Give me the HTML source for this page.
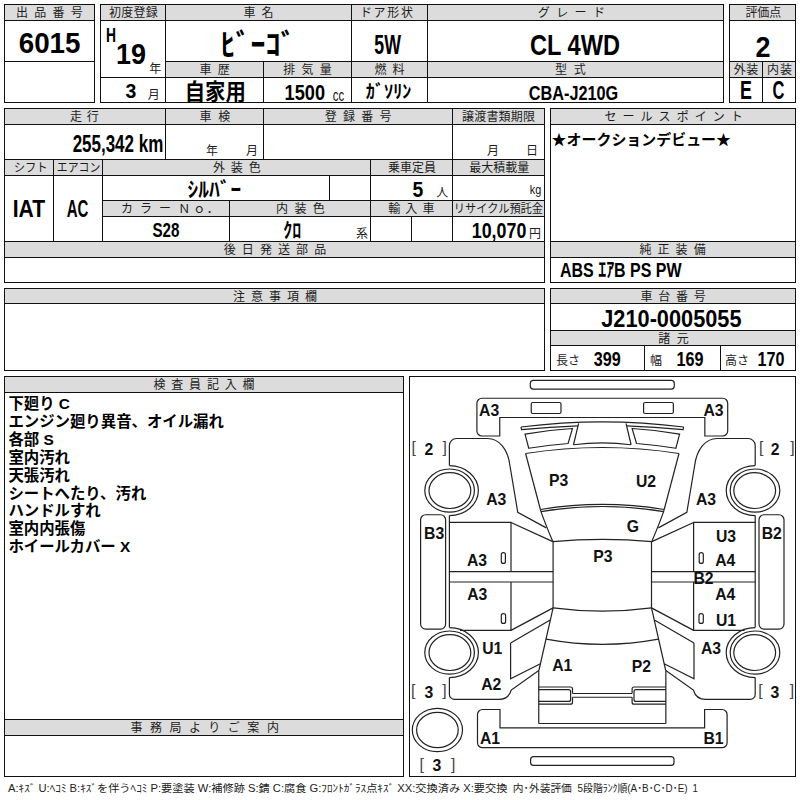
<!DOCTYPE html>
<html lang="ja"><head><meta charset="utf-8"><title>出品票 6015</title>
<style>
html,body{margin:0;padding:0;background:#fff}
body{width:800px;height:800px;position:relative;overflow:hidden;font-family:"Liberation Sans",sans-serif}
.c{position:absolute;box-sizing:border-box;border:1px solid #111;background:transparent}
.c.h{background:#dcdcdc}
.c>svg{position:absolute;left:-1px;top:-1px;overflow:visible}
.foot{position:absolute;left:0;top:780px;width:800px;height:20px}
.foot svg{position:absolute;left:0;top:0;overflow:visible}
.dia svg.d{position:absolute;left:-1px;top:-1px}
.dia text{font-family:"Liberation Sans",sans-serif;font-weight:bold;fill:#111}
.dia text.b{font-weight:normal;fill:#444}
text.hl{font-family:"Liberation Sans","Noto Sans CJK JP",sans-serif;font-size:12px;fill:#1c1c1c}
text.u{font-family:"Liberation Sans","Noto Sans CJK JP",sans-serif;font-size:12px;fill:#222}
text.v{font-family:"Liberation Sans","Noto Sans CJK JP",sans-serif;font-weight:bold;fill:#000}
text.r{font-family:"Liberation Sans","Noto Sans CJK JP",sans-serif;fill:#111}
text.n{font-family:"Liberation Sans","Noto Sans CJK JP",sans-serif;font-weight:bold;font-size:15.4px;fill:#000}
text.f{font-family:"Liberation Sans","Noto Sans CJK JP",sans-serif;font-size:10.74px;fill:#222}
</style></head><body>
<div class="c h" style="left:4px;top:4px;width:91px;height:17px"><svg width="91" height="17"><text class="hl" x="12.01" y="12.9" textLength="66.7" lengthAdjust="spacing">出品番号</text></svg></div>
<div class="c" style="left:4px;top:20px;width:91px;height:42px"><svg width="91" height="42"><text class="v" x="14.7" y="32.5" font-size="30" textLength="61.8" lengthAdjust="spacingAndGlyphs">6015</text></svg></div>
<div class="c" style="left:4px;top:61px;width:91px;height:42px"></div>
<div class="c h" style="left:100px;top:4px;width:66px;height:17px"><svg width="66" height="17"><text class="hl" x="8.95" y="12.9" textLength="48.9" lengthAdjust="spacing">初度登録</text></svg></div>
<div class="c" style="left:100px;top:20px;width:66px;height:58px"><svg width="66" height="58"><text class="v" x="6" y="22.4" font-size="20" textLength="10" lengthAdjust="spacingAndGlyphs">H</text><text class="v" x="16" y="43.6" font-size="30" textLength="30" lengthAdjust="spacingAndGlyphs">19</text><text class="u" x="49.2" y="52.8">年</text></svg></div>
<div class="c" style="left:100px;top:77px;width:66px;height:26px"><svg width="66" height="26"><text class="v" x="25.6" y="21" font-size="20" textLength="10.8" lengthAdjust="spacingAndGlyphs">3</text><text class="u" x="47.8" y="21.5">月</text></svg></div>
<div class="c h" style="left:165px;top:4px;width:187px;height:17px"><svg width="187" height="17"><text class="hl" x="78.62" y="12.9" textLength="29.95" lengthAdjust="spacing">車名</text></svg></div>
<div class="c" style="left:165px;top:20px;width:187px;height:42px"><svg width="187" height="42"><text class="v" x="55.5" y="35" font-size="30" textLength="75" lengthAdjust="spacingAndGlyphs">ﾋﾞｰｺﾞ</text></svg></div>
<div class="c h" style="left:165px;top:61px;width:99px;height:17px"><svg width="99" height="17"><text class="hl" x="34.62" y="12.9" textLength="30.2" lengthAdjust="spacing">車歴</text></svg></div>
<div class="c h" style="left:263px;top:61px;width:89px;height:17px"><svg width="89" height="17"><text class="hl" x="20.28" y="12.9" textLength="48.6" lengthAdjust="spacing">排気量</text></svg></div>
<div class="c" style="left:165px;top:77px;width:99px;height:26px"><svg width="99" height="26"><text class="v" x="19.79" y="23.4" font-size="22.6" textLength="61" lengthAdjust="spacingAndGlyphs">自家用</text></svg></div>
<div class="c" style="left:263px;top:77px;width:89px;height:26px"><svg width="89" height="26"><text class="v" x="21.62" y="23" font-size="22.3" textLength="40.4" lengthAdjust="spacingAndGlyphs">1500</text><text class="r" x="69.79" y="23.7" font-size="17.3" textLength="11.4" lengthAdjust="spacingAndGlyphs">cc</text></svg></div>
<div class="c h" style="left:351px;top:4px;width:77px;height:17px"><svg width="77" height="17"><text class="hl" x="8.92" y="12.9" textLength="53.1" lengthAdjust="spacing">ドア形状</text></svg></div>
<div class="c" style="left:351px;top:20px;width:77px;height:42px"><svg width="77" height="42"><text class="v" x="23.31" y="34" font-size="27.4" textLength="26.6" lengthAdjust="spacingAndGlyphs">5W</text></svg></div>
<div class="c h" style="left:351px;top:61px;width:77px;height:17px"><svg width="77" height="17"><text class="hl" x="23.47" y="12.9" textLength="30.06" lengthAdjust="spacing">燃料</text></svg></div>
<div class="c" style="left:351px;top:77px;width:77px;height:26px"><svg width="77" height="26"><text class="v" x="14.81" y="20.9" font-size="18.6" textLength="45.6" lengthAdjust="spacingAndGlyphs">ｶﾞｿﾘﾝ</text></svg></div>
<div class="c h" style="left:427px;top:4px;width:297px;height:17px"><svg width="297" height="17"><text class="hl" x="110.74" y="12.9" textLength="67.2" lengthAdjust="spacing">グレード</text></svg></div>
<div class="c" style="left:427px;top:20px;width:297px;height:42px"><svg width="297" height="42"><text class="v" x="103" y="35" font-size="30" textLength="90" lengthAdjust="spacingAndGlyphs">CL 4WD</text></svg></div>
<div class="c h" style="left:427px;top:61px;width:297px;height:17px"><svg width="297" height="17"><text class="hl" x="127.88" y="12.9" textLength="30.8" lengthAdjust="spacing">型式</text></svg></div>
<div class="c" style="left:427px;top:77px;width:297px;height:26px"><svg width="297" height="26"><text class="v" x="101.77" y="23" font-size="20.6" textLength="89.5" lengthAdjust="spacingAndGlyphs">CBA-J210G</text></svg></div>
<div class="c h" style="left:729px;top:4px;width:67px;height:17px"><svg width="67" height="17"><text class="hl" x="16.39" y="12.9" textLength="35.8" lengthAdjust="spacing">評価点</text></svg></div>
<div class="c" style="left:729px;top:20px;width:67px;height:42px"><svg width="67" height="42"><text class="v" x="26.5" y="37" font-size="30" textLength="15" lengthAdjust="spacingAndGlyphs">2</text></svg></div>
<div class="c h" style="left:729px;top:61px;width:34px;height:17px"><svg width="34" height="17"><text class="hl" x="4.67" y="12.9" textLength="24.7" lengthAdjust="spacing">外装</text></svg></div>
<div class="c h" style="left:762px;top:61px;width:34px;height:17px"><svg width="34" height="17"><text class="hl" x="5.02" y="12.9" textLength="25.1" lengthAdjust="spacing">内装</text></svg></div>
<div class="c" style="left:729px;top:77px;width:34px;height:26px"><svg width="34" height="26"><text class="v" x="11.06" y="22.3" font-size="25" textLength="11.9" lengthAdjust="spacingAndGlyphs">E</text></svg></div>
<div class="c" style="left:762px;top:77px;width:34px;height:26px"><svg width="34" height="26"><text class="v" x="10.56" y="22.3" font-size="25" textLength="11.9" lengthAdjust="spacingAndGlyphs">C</text></svg></div>
<div class="c h" style="left:4px;top:108px;width:162px;height:17px"><svg width="162" height="17"><text class="hl" x="66.08" y="12.9" textLength="28.7" lengthAdjust="spacing">走行</text></svg></div>
<div class="c" style="left:4px;top:124px;width:162px;height:36px"><svg width="162" height="36"><text class="v" x="68.63" y="28.2" font-size="23.4" textLength="90.65" lengthAdjust="spacingAndGlyphs">255,342 km</text></svg></div>
<div class="c h" style="left:165px;top:108px;width:99px;height:17px"><svg width="99" height="17"><text class="hl" x="34.62" y="12.9" textLength="30.7" lengthAdjust="spacing">車検</text></svg></div>
<div class="c" style="left:165px;top:124px;width:99px;height:36px"><svg width="99" height="36"><text class="u" x="41" y="31">年</text><text class="u" x="81" y="31">月</text></svg></div>
<div class="c h" style="left:263px;top:108px;width:190px;height:17px"><svg width="190" height="17"><text class="hl" x="61.75" y="12.9" textLength="66.7" lengthAdjust="spacing">登録番号</text></svg></div>
<div class="c" style="left:263px;top:124px;width:190px;height:36px"></div>
<div class="c h" style="left:452px;top:108px;width:93px;height:17px"><svg width="93" height="17"><text class="hl" x="9.91" y="12.9" textLength="73.2" lengthAdjust="spacing">譲渡書類期限</text></svg></div>
<div class="c" style="left:452px;top:124px;width:93px;height:36px"><svg width="93" height="36"><text class="u" x="35" y="31">月</text><text class="u" x="74" y="31">日</text></svg></div>
<div class="c h" style="left:4px;top:159px;width:50px;height:17px"><svg width="50" height="17"><text class="hl" x="9.67" y="12.9" textLength="34" lengthAdjust="spacingAndGlyphs">シフト</text></svg></div>
<div class="c h" style="left:53px;top:159px;width:50px;height:17px"><svg width="50" height="17"><text class="hl" x="3.78" y="12.9" textLength="43.5" lengthAdjust="spacingAndGlyphs">エアコン</text></svg></div>
<div class="c h" style="left:102px;top:159px;width:269px;height:17px"><svg width="269" height="17"><text class="hl" x="111.02" y="12.9" textLength="47.7" lengthAdjust="spacing">外装色</text></svg></div>
<div class="c h" style="left:370px;top:159px;width:83px;height:17px"><svg width="83" height="17"><text class="hl" x="18.04" y="12.9" textLength="47.9" lengthAdjust="spacingAndGlyphs">乗車定員</text></svg></div>
<div class="c h" style="left:452px;top:159px;width:93px;height:17px"><svg width="93" height="17"><text class="hl" x="17.28" y="12.9" textLength="60.1" lengthAdjust="spacingAndGlyphs">最大積載量</text></svg></div>
<div class="c" style="left:4px;top:175px;width:50px;height:67px"><svg width="50" height="67"><text class="v" x="8.75" y="42" font-size="23.3" textLength="32.5" lengthAdjust="spacingAndGlyphs">IAT</text></svg></div>
<div class="c" style="left:53px;top:175px;width:50px;height:67px"><svg width="50" height="67"><text class="v" x="13.77" y="42" font-size="23.3" textLength="21.7" lengthAdjust="spacingAndGlyphs">AC</text></svg></div>
<div class="c" style="left:102px;top:175px;width:228px;height:26px"><svg width="228" height="26"><text class="v" x="85.62" y="22.2" font-size="20.8" textLength="53.55" lengthAdjust="spacingAndGlyphs">ｼﾙﾊﾞｰ</text></svg></div>
<div class="c" style="left:329px;top:175px;width:42px;height:26px"></div>
<div class="c" style="left:370px;top:175px;width:83px;height:26px"><svg width="83" height="26"><text class="v" x="42.43" y="21.5" font-size="21.5" textLength="10.75" lengthAdjust="spacingAndGlyphs">5</text><text class="u" x="66.3" y="22">人</text></svg></div>
<div class="c" style="left:452px;top:175px;width:93px;height:26px"><svg width="93" height="26"><text class="r" x="77.86" y="19.4" font-size="13" textLength="11.44" lengthAdjust="spacingAndGlyphs">kg</text></svg></div>
<div class="c h" style="left:102px;top:200px;width:128px;height:17px"><svg width="128" height="17"><text class="hl" x="18.96" y="12.9" textLength="69.2" lengthAdjust="spacing">カラーＮ</text><text class="hl" x="91.32" y="12.9">ｏ</text><text class="hl" x="104.8" y="12.9">．</text></svg></div>
<div class="c h" style="left:229px;top:200px;width:142px;height:17px"><svg width="142" height="17"><text class="hl" x="47.12" y="12.9" textLength="48.6" lengthAdjust="spacing">内装色</text></svg></div>
<div class="c h" style="left:370px;top:200px;width:83px;height:17px"><svg width="83" height="17"><text class="hl" x="18.22" y="12.9" textLength="46.3" lengthAdjust="spacing">輸入車</text></svg></div>
<div class="c h" style="left:452px;top:200px;width:93px;height:17px"><svg width="93" height="17"><text class="hl" x="1.79" y="12.9" textLength="89.3" lengthAdjust="spacingAndGlyphs">リサイクル預託金</text></svg></div>
<div class="c" style="left:102px;top:216px;width:128px;height:26px"><svg width="128" height="26"><text class="v" x="50.5" y="21.4" font-size="20" textLength="27" lengthAdjust="spacingAndGlyphs">S28</text></svg></div>
<div class="c" style="left:229px;top:216px;width:142px;height:26px"><svg width="142" height="26"><text class="v" x="54.2" y="21.8" font-size="20" textLength="18" lengthAdjust="spacingAndGlyphs">ｸﾛ</text><text class="u" x="127" y="22">系</text></svg></div>
<div class="c" style="left:370px;top:216px;width:42px;height:26px"></div>
<div class="c" style="left:411px;top:216px;width:42px;height:26px"></div>
<div class="c" style="left:452px;top:216px;width:93px;height:26px"><svg width="93" height="26"><text class="v" x="19.73" y="21.5" font-size="21.4" textLength="54.6" lengthAdjust="spacingAndGlyphs">10,070</text><text class="u" x="77" y="22">円</text></svg></div>
<div class="c h" style="left:4px;top:241px;width:541px;height:17px"><svg width="541" height="17"><text class="hl" x="219.78" y="12.9" textLength="102.4" lengthAdjust="spacing">後日発送部品</text></svg></div>
<div class="c" style="left:4px;top:257px;width:541px;height:26px"></div>
<div class="c h" style="left:550px;top:108px;width:246px;height:17px"><svg width="246" height="17"><text class="hl" x="54.5" y="12.9" textLength="138.3" lengthAdjust="spacing">セールスポイント</text></svg></div>
<div class="c" style="left:550px;top:124px;width:246px;height:118px"><svg width="246" height="118"><text class="v" x="1.6" y="20.5" font-size="14.95" textLength="179.4" lengthAdjust="spacingAndGlyphs">★オークションデビュー★</text></svg></div>
<div class="c h" style="left:550px;top:241px;width:246px;height:17px"><svg width="246" height="17"><text class="hl" x="89.46" y="12.9" textLength="66.2" lengthAdjust="spacing">純正装備</text></svg></div>
<div class="c" style="left:550px;top:257px;width:246px;height:26px"><svg width="246" height="26"><text class="v" x="10" y="20" font-size="20" textLength="121.55" lengthAdjust="spacingAndGlyphs">ABS ｴｱB PS PW</text></svg></div>
<div class="c h" style="left:4px;top:288px;width:541px;height:16px"><svg width="541" height="16"><text class="hl" x="228.94" y="12.9" textLength="84.2" lengthAdjust="spacing">注意事項欄</text></svg></div>
<div class="c" style="left:4px;top:303px;width:541px;height:68px"></div>
<div class="c h" style="left:550px;top:288px;width:246px;height:16px"><svg width="246" height="16"><text class="hl" x="90.47" y="12.9" textLength="65.2" lengthAdjust="spacing">車台番号</text></svg></div>
<div class="c" style="left:550px;top:303px;width:246px;height:28px"><svg width="246" height="28"><text class="v" x="51.29" y="24" font-size="24.6" textLength="140.2" lengthAdjust="spacingAndGlyphs">J210-0005055</text></svg></div>
<div class="c h" style="left:550px;top:330px;width:246px;height:16px"><svg width="246" height="16"><text class="hl" x="108.13" y="12.9" textLength="30.6" lengthAdjust="spacing">諸元</text></svg></div>
<div class="c" style="left:550px;top:345px;width:95px;height:26px"><svg width="95" height="26"><text class="u" x="6" y="20">長さ</text><text class="v" x="43.8" y="21" font-size="20" textLength="27" lengthAdjust="spacingAndGlyphs">399</text></svg></div>
<div class="c" style="left:644px;top:345px;width:77px;height:26px"><svg width="77" height="26"><text class="u" x="6" y="20">幅</text><text class="v" x="32.5" y="21" font-size="20" textLength="27" lengthAdjust="spacingAndGlyphs">169</text></svg></div>
<div class="c" style="left:720px;top:345px;width:76px;height:26px"><svg width="76" height="26"><text class="u" x="5" y="20">高さ</text><text class="v" x="37.5" y="21" font-size="20" textLength="27" lengthAdjust="spacingAndGlyphs">170</text></svg></div>
<div class="c h" style="left:4px;top:376px;width:400px;height:17px"><svg width="400" height="17"><text class="hl" x="149.4" y="12.9" textLength="101.2" lengthAdjust="spacing">検査員記入欄</text></svg></div>
<div class="c" style="left:4px;top:392px;width:400px;height:328px"><svg width="400" height="328"><text class="n" x="4.4" y="16.9">下廻り C</text><text class="n" x="4.4" y="34.83">エンジン廻り異音、オイル漏れ</text><text class="n" x="4.4" y="52.76">各部 S</text><text class="n" x="4.4" y="70.69">室内汚れ</text><text class="n" x="4.4" y="88.62">天張汚れ</text><text class="n" x="4.4" y="106.55">シートへたり、汚れ</text><text class="n" x="4.4" y="124.48">ハンドルすれ</text><text class="n" x="4.4" y="142.41">室内内張傷</text><text class="n" x="4.4" y="160.34">ホイールカバー X</text></svg></div>
<div class="c h" style="left:4px;top:719px;width:400px;height:17px"><svg width="400" height="17"><text class="hl" x="126.4" y="12.9" textLength="148.5" lengthAdjust="spacing">事務局よりご案内</text></svg></div>
<div class="c" style="left:4px;top:735px;width:400px;height:42px"></div>
<div class="c dia" style="left:409px;top:376px;width:387px;height:401px"><svg class="d" width="387" height="401" viewBox="409 376 387 401"><g fill="none" stroke="#222" stroke-width="1.2"><g id="dh"><rect x="531.25" y="402.50" width="29.75" height="11.00" rx="1.5"/><path d="M521 427L521.5 429.6Q550 426.8 578.25 425.9"/><path d="M578.6 423.3L573.5 444.75"/><path d="M525 434.1Q548 430 572.5 428.5L568.1 443.5Q548 445 528.75 448.25Z"/><path d="M525.6 453.5L540.4 509.5"/><path d="M540.4 509.5L541 511.6Q545 523 552.8 541.6"/><path d="M449.4 465.6V445.5A7 7 0 0 1 456.4 438.5H487.5C499 438.5 508 449 510 466L517.75 512.25L546.25 527.9"/><path d="M511 522.5L552.8 541.6"/><ellipse cx="449.6" cy="490.6" rx="24.8" ry="21.6"/><ellipse cx="449.9" cy="490.6" rx="20.9" ry="17.9"/><path d="M449.4 465.6A29 25 0 0 1 449.4 515.6"/><ellipse cx="449.6" cy="652.6" rx="24.8" ry="21.6"/><ellipse cx="449.9" cy="652.6" rx="20.9" ry="17.9"/><path d="M449.4 627.6A29 25 0 0 1 449.4 677.6"/><rect x="420.60" y="514.75" width="25.00" height="114.35" rx="5"/><path d="M449.4 515.6V627.6"/><path d="M449.4 522.4H511V571.6M511 582V630.4H460"/><path d="M449.4 571.6H553.1M449.4 582H553.1"/><path d="M553.1 541.6V607.9"/><rect x="501.30" y="552.60" width="4.10" height="10.80" rx="2"/><rect x="501.30" y="613.60" width="4.30" height="9.80" rx="2"/><path d="M553.1 607.9L539 670"/><path d="M511 630.4L553.1 607.9"/><path d="M510.6 643.1L550.2 620M540.4 663.7L510.6 678.75V643.1"/><path d="M449.4 677.6V694.4A5 5 0 0 0 454.4 699.4H499C506 699.4 509.5 696 511.25 690L538.75 670.6"/><path d="M538.75 670V723.5"/><path d="M538.75 687H570.5A2 2 0 0 1 572.5 689V693.5M572.5 697.25V702.2A2 2 0 0 1 570.5 704.2H538.75"/><path d="M538.75 689.6H568.6A2 2 0 0 1 570.6 691.6V699.4A2 2 0 0 1 568.6 701.4H538.75"/></g><use href="#dh" transform="translate(1204.6 0) scale(-1 1)"/><rect x="530.30" y="380.40" width="144.00" height="8.70" rx="3"/><rect x="530.60" y="756.60" width="143.40" height="8.80" rx="3"/><path d="M481.9 398.25H722.6999999999999A5 5 0 0 1 727.6999999999999 403.25V431A5 5 0 0 1 722.6999999999999 436H704.8499999999999V417.5H499.75V436H481.9A5 5 0 0 1 476.9 431V403.25A5 5 0 0 1 481.9 398.25Z"/><path d="M482.5 709.5H500V727.8H704.5999999999999V709.5H722.0999999999999A5 5 0 0 1 727.0999999999999 714.5V742.7A5 5 0 0 1 722.0999999999999 747.7H482.5A5 5 0 0 1 477.5 742.7V714.5A5 5 0 0 1 482.5 709.5Z"/><path d="M521 427Q602.3 416.6 683.5999999999999 427"/><path d="M573.5 444.75Q602.3 441.05 631.0999999999999 444.75"/><path d="M525.6 453.5Q602.3 441.5 678.9999999999999 453.5"/><path d="M540.4 509.5Q602.3 499.3 664.1999999999999 509.5"/><path d="M541 511.6Q602.3 501.4 663.5999999999999 511.6"/><path d="M552.8 541.6Q602.3 537.2 651.8 541.6"/><path d="M553.1 607.9Q602.3 614.5 651.4999999999999 607.9"/><path d="M546 639.1Q602.3 649.5 658.5999999999999 639.1"/><path d="M538.75 723.5H665.8499999999999"/><path d="M572.5 693.5H632.0999999999999M572.5 697.25H632.0999999999999"/><ellipse cx="437.4" cy="730" rx="25.1" ry="21.7"/><ellipse cx="437.4" cy="730" rx="20.8" ry="17.6"/></g><g font-size="16.6" transform="scale(0.95 1)"><text x="504.32" y="415.75">A3</text><text x="740.47" y="415.75">A3</text><text x="578.00" y="486.25">P3</text><text x="669.42" y="487.00">U2</text><text x="511.79" y="505.40">A3</text><text x="732.58" y="505.50">A3</text><text x="659.68" y="532.50">G</text><text x="446.42" y="539.10">B3</text><text x="801.79" y="539.50">B2</text><text x="753.63" y="542.00">U3</text><text x="491.53" y="566.25">A3</text><text x="752.84" y="566.25">A4</text><text x="624.42" y="562.50">P3</text><text x="729.95" y="583.75">B2</text><text x="491.79" y="600.40">A3</text><text x="752.84" y="600.50">A4</text><text x="753.63" y="626.25">U1</text><text x="507.58" y="654.40">U1</text><text x="737.84" y="654.50">A3</text><text x="581.26" y="671.50">A1</text><text x="664.95" y="672.00">P2</text><text x="506.53" y="690.30">A2</text><text x="505.21" y="744.50">A1</text><text x="740.47" y="744.50">B1</text><text class="b" x="433.16" y="453.45">[</text><text x="451.47" y="454.75" text-anchor="middle">2</text><text class="b" x="470.53" y="453.45" text-anchor="end">]</text><text class="b" x="798.95" y="453.45">[</text><text x="815.89" y="454.75" text-anchor="middle">2</text><text class="b" x="836.58" y="453.45" text-anchor="end">]</text><text class="b" x="432.53" y="696.50">[</text><text x="451.47" y="697.80" text-anchor="middle">3</text><text class="b" x="470.11" y="696.50" text-anchor="end">]</text><text class="b" x="798.16" y="696.50">[</text><text x="815.79" y="697.80" text-anchor="middle">3</text><text class="b" x="836.05" y="696.50" text-anchor="end">]</text><text class="b" x="441.68" y="769.70">[</text><text x="459.89" y="771.00" text-anchor="middle">3</text><text class="b" x="479.37" y="769.70" text-anchor="end">]</text></g></svg></div>
<div class="foot"><svg width="800" height="20"><text class="f" x="8" y="12.3" textLength="499.4" lengthAdjust="spacingAndGlyphs">A:ｷｽﾞ U:ﾍｺﾐ B:ｷｽﾞを伴うﾍｺﾐ P:要塗装 W:補修跡 S:錆 C:腐食 G:ﾌﾛﾝﾄｶﾞﾗｽ点ｷｽﾞ XX:交換済み X:要交換</text><text class="f" x="512.8" y="12.3" textLength="59.07" lengthAdjust="spacingAndGlyphs">内･外装評価</text><text class="f" x="577.6" y="12.3" textLength="109.9" lengthAdjust="spacingAndGlyphs">5段階ﾗﾝｸ順(A･B･C･D･E)</text><text class="f" x="692.6" y="12.3" textLength="5.37" lengthAdjust="spacingAndGlyphs">1</text></svg></div>
</body></html>
